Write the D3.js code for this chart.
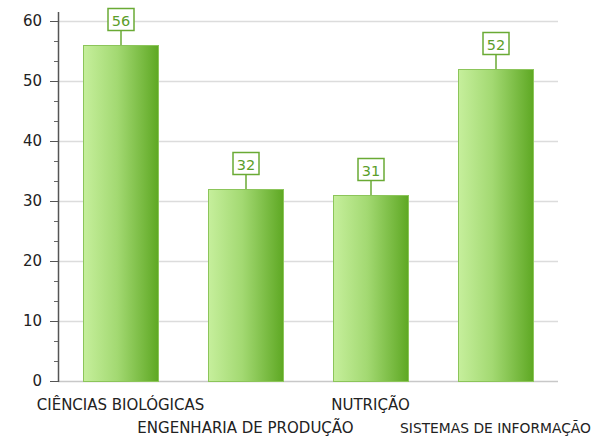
<!DOCTYPE html>
<html>
<head>
<meta charset="utf-8">
<script src="https://cdn.jsdelivr.net/npm/d3@7"></script>
<style>
  body { margin: 0; background: #fff; }
  svg text { font-family: "DejaVu Sans", Verdana, sans-serif; }
</style>
</head>
<body>
<svg id="chart"></svg>
<script>
const categories = ['CIÊNCIAS BIOLÓGICAS', 'ENGENHARIA DE PRODUÇÃO', 'NUTRIÇÃO', 'SISTEMAS DE INFORMAÇÃO'];
const values = [56, 32, 31, 52];
const yTicks = [0, 10, 20, 30, 40, 50, 60];

const width = 597, height = 439;
const marginLeft = 58, marginRight = 39, marginTop = 21, marginBottom = 58;

const svg = d3.select('#chart')
  .attr('width', width)
  .attr('height', height);

const x = d3.scaleBand()
  .domain(categories)
  .range([marginLeft, width - marginRight])
  .paddingInner(0.4)
  .paddingOuter(0.2);

const y = d3.scaleLinear()
  .domain([0, 60])
  .range([height - marginBottom, marginTop]);

// gradient for bars
const defs = svg.append('defs');
const grad = defs.append('linearGradient').attr('id', 'barGrad')
  .attr('x1', '0%').attr('x2', '100%').attr('y1', '0%').attr('y2', '0%');
grad.append('stop').attr('offset', '0%').attr('stop-color', '#c6ef9c');
grad.append('stop').attr('offset', '45%').attr('stop-color', '#a3d972');
grad.append('stop').attr('offset', '100%').attr('stop-color', '#5ea823');

// grid
svg.append('g')
  .selectAll('line')
  .data(yTicks.filter(d => d > 0))
  .join('line')
  .attr('x1', marginLeft).attr('x2', width - marginRight)
  .attr('y1', d => y(d) + 0.5).attr('y2', d => y(d) + 0.5)
  .style('stroke', '#dcdcdc')
  .style('stroke-width', 1.5);

// baseline
svg.append('line')
  .attr('x1', marginLeft).attr('x2', width - marginRight)
  .attr('y1', y(0) + 0.5).attr('y2', y(0) + 0.5)
  .style('stroke', '#c8c8c8')
  .style('stroke-width', 1.5);

// minor ticks (3 per 10)
const minor = d3.range(0, 60.01, 10 / 3).filter(d => Math.abs(d / 10 - Math.round(d / 10)) > 0.01);
svg.append('g')
  .selectAll('line')
  .data(minor)
  .join('line')
  .attr('x1', marginLeft - 4).attr('x2', marginLeft)
  .attr('y1', d => Math.round(y(d)) + 0.5).attr('y2', d => Math.round(y(d)) + 0.5)
  .style('stroke', '#666');

// y axis
const yAxis = svg.append('g')
  .attr('transform', `translate(${marginLeft},0)`)
  .call(d3.axisLeft(y).tickValues(yTicks).tickSize(8).tickPadding(8));
yAxis.select('.domain').attr('d', `M0.5,${marginTop - 9}V${y(0) + 1}`).style('stroke', '#555').style('stroke-width', 1.5);
yAxis.selectAll('.tick line').style('stroke', '#555');
yAxis.selectAll('.tick text').style('font-size', '15px').style('fill', '#222');

// bars
svg.append('g')
  .selectAll('rect')
  .data(values)
  .join('rect')
  .attr('x', (d, i) => x(categories[i]) + 0.5)
  .attr('y', d => y(d) + 0.5)
  .attr('width', x.bandwidth())
  .attr('height', d => y(0) - y(d))
  .style('fill', 'url(#barGrad)')
  .style('stroke', '#8cc55a')
  .style('stroke-width', 1);

// value labels
const labels = svg.append('g')
  .selectAll('g')
  .data(values)
  .join('g')
  .attr('transform', (d, i) => `translate(${x(categories[i]) + x.bandwidth() / 2},${y(d)})`);
labels.append('line')
  .attr('x1', 0.5).attr('x2', 0.5)
  .attr('y1', 0).attr('y2', -14)
  .style('stroke', '#6aaa34')
  .style('stroke-width', 1.5);
labels.append('rect')
  .attr('x', -12.5).attr('y', -36.5)
  .attr('width', 26).attr('height', 22)
  .style('fill', '#fff')
  .style('stroke', '#6aaa34')
  .style('stroke-width', 1.5);
labels.append('text')
  .attr('x', 0.5).attr('y', -19.5)
  .attr('text-anchor', 'middle')
  .style('font-size', '14.5px')
  .style('fill', '#5c9e2a')
  .text(d => d);

// category labels, staggered; shrink any that would run past the right edge
svg.append('g')
  .selectAll('text')
  .data(categories)
  .join('text')
  .attr('x', d => x(d) + x.bandwidth() / 2)
  .attr('y', (d, i) => i % 2 === 0 ? 410 : 433)
  .attr('text-anchor', 'middle')
  .style('font-size', '15px')
  .style('fill', '#222')
  .text(d => d)
  .each(function (d) {
    const cx = x(d) + x.bandwidth() / 2;
    const len = this.getComputedTextLength();
    const maxLen = 2 * (width - 6 - cx);
    if (len > maxLen) {
      d3.select(this).style('font-size', (15 * maxLen / len).toFixed(2) + 'px');
    }
  });
</script>
</body>
</html>
